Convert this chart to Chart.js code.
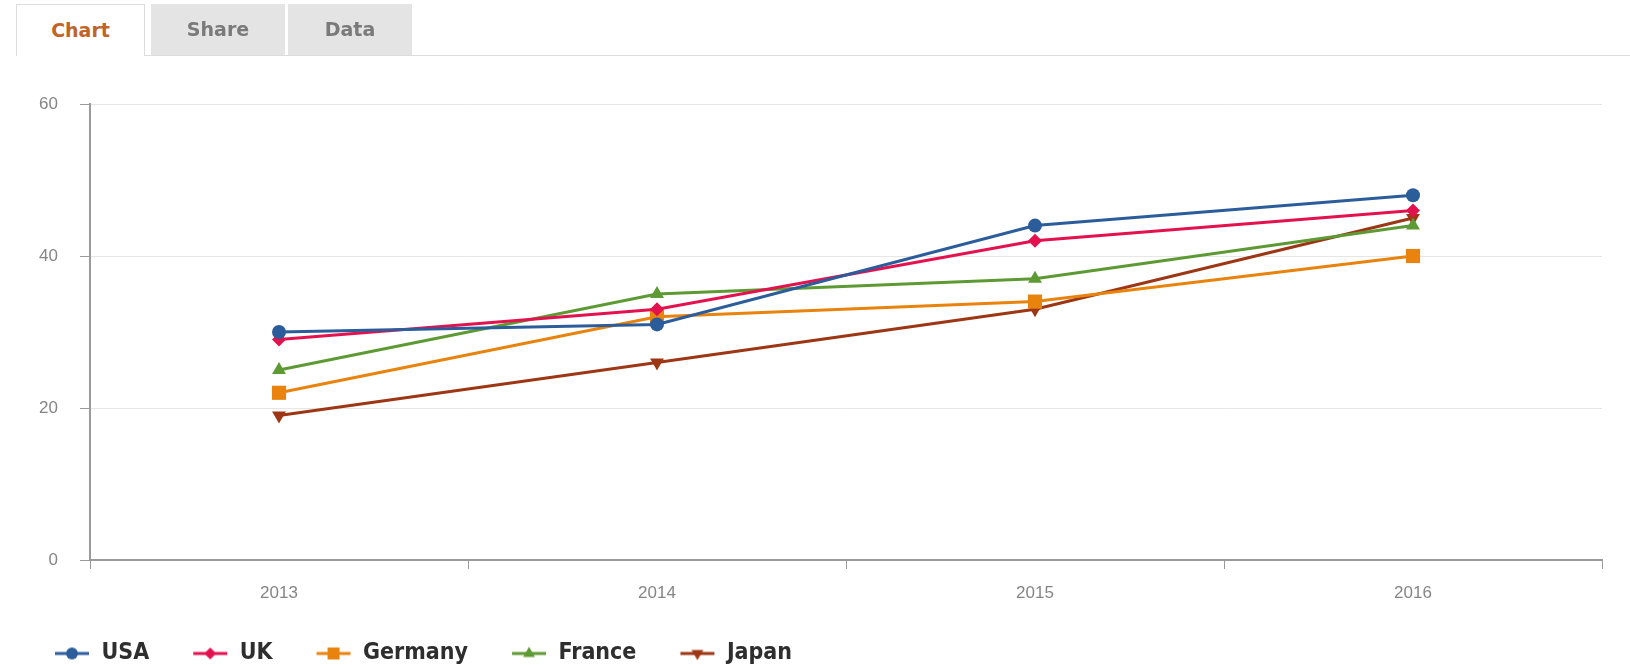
<!DOCTYPE html>
<html>
<head>
<meta charset="utf-8">
<script src="https://cdn.jsdelivr.net/npm/chart.js@4.4.1/dist/chart.umd.min.js"></script>
<style>
  html, body { margin: 0; padding: 0; background: #fff; overflow: hidden; }
  body { width: 1630px; height: 665px; position: relative; font-family: "DejaVu Sans", sans-serif; }
  .tabs-line { position: absolute; left: 145px; right: 0; top: 55px; height: 1px; background: #dcdcdc; }
  .tab { position: absolute; top: 4px; height: 51px; line-height: 50px; text-align: center;
         font-weight: bold; font-size: 19px; color: #7a7a7a; background: #e4e4e4; box-sizing: border-box; }
  .tab.active { background: #fff; color: #c0642a; border: 1px solid #dcdcdc; border-bottom: none; height: 52px; }
  #wrap { position: absolute; left: 0; top: 0; width: 1630px; height: 675px; }
</style>
</head>
<body>
<div id="wrap"><canvas id="chart"></canvas></div>
<div class="tabs-line"></div>
<div class="tab active" style="left:16px;width:129px;">Chart</div>
<div class="tab" style="left:151px;width:134px;">Share</div>
<div class="tab" style="left:288px;width:124px;">Data</div>
<script>
document.addEventListener('DOMContentLoaded', function() {
    // Dados
    const years = ['2013', '2014', '2015', '2016'];
    const usa = [30, 31, 44, 48];
    const uk = [29, 33, 42, 46];
    const germany = [22, 32, 34, 40];
    const france = [25, 35, 37, 44];
    const japan = [19, 26, 33, 45];
    const yTicks = [0, 20, 40, 60];

    const series = [
        { label: 'USA', data: usa, color: '#2c5d9b', style: 'circle', radius: 7, rotation: 0 },
        { label: 'UK', data: uk, color: '#e3124f', style: 'rectRot', radius: 7, rotation: 0 },
        { label: 'Germany', data: germany, color: '#e8830e', style: 'rect', radius: 10, rotation: 0 },
        { label: 'France', data: france, color: '#5e9a34', style: 'triangle', radius: 8, rotation: 0 },
        { label: 'Japan', data: japan, color: '#9d3614', style: 'triangle', radius: 8, rotation: 180 }
    ];

    // Ícones da legenda: linha + marcador
    function legendIcon(s) {
        const c = document.createElement('canvas');
        c.width = 36; c.height = 18;
        const g = c.getContext('2d');
        g.strokeStyle = s.color;
        g.fillStyle = s.color;
        g.lineWidth = 3;
        g.beginPath();
        g.moveTo(1, 9); g.lineTo(35, 9);
        g.stroke();
        g.lineWidth = 0;
        Chart.helpers.drawPoint(g, {
            pointStyle: s.style,
            radius: s.radius * 0.85,
            rotation: s.rotation,
            borderWidth: 0
        }, 18, 9);
        return c;
    }
    const icons = series.map(legendIcon);

    const grey = '#9a9a9a';
    const tickFont = { family: '"Liberation Sans", Arial, sans-serif', size: 17 };

    new Chart(document.getElementById('chart'), {
        type: 'line',
        data: {
            labels: years,
            datasets: series.map(s => ({
                label: s.label,
                data: s.data,
                borderColor: s.color,
                backgroundColor: s.color,
                pointBackgroundColor: s.color,
                pointBorderColor: s.color,
                pointBorderWidth: 0,
                pointStyle: s.style,
                pointRadius: s.radius,
                pointRotation: s.rotation,
                borderWidth: 3,
                tension: 0,
                fill: false
            }))
        },
        options: {
            responsive: true,
            maintainAspectRatio: false,
            animation: false,
            events: [],
            layout: { padding: { left: 11, right: 28, top: 104, bottom: 0 } },
            plugins: {
                tooltip: { enabled: false },
                legend: {
                    position: 'bottom',
                    align: 'start',
                    labels: {
                        usePointStyle: true,
                        pointStyleWidth: 36,
                        padding: 43,
                        color: '#2e2e2e',
                        font: { family: '"DejaVu Sans Condensed", "Liberation Sans Narrow", sans-serif', size: 23, weight: 'bold' },
                        generateLabels: function(chart) {
                            return series.map((s, i) => ({
                                text: s.label,
                                pointStyle: icons[i],
                                fillStyle: s.color,
                                strokeStyle: s.color,
                                lineWidth: 0,
                                hidden: false,
                                datasetIndex: i,
                                fontColor: '#2e2e2e'
                            }));
                        }
                    }
                }
            },
            scales: {
                x: {
                    type: 'category',
                    offset: true,
                    afterFit: function(scale) { scale.height = 39; },
                    border: { display: true, color: grey, width: 2 },
                    grid: {
                        offset: true,
                        drawOnChartArea: false,
                        drawTicks: true,
                        tickLength: 9,
                        tickColor: grey,
                        lineWidth: 1
                    },
                    ticks: {
                        padding: 14,
                        color: '#858585',
                        font: tickFont
                    }
                },
                y: {
                    min: 0,
                    max: 60,
                    afterFit: function(scale) { scale.width = 79; },
                    afterBuildTicks: function(scale) { scale.ticks = yTicks.map(v => ({ value: v })); },
                    border: { display: true, color: grey, width: 2 },
                    grid: {
                        color: '#e6e6e6',
                        lineWidth: 1,
                        tickLength: 10,
                        tickColor: grey
                    },
                    ticks: {
                        padding: 22,
                        color: '#858585',
                        font: tickFont
                    }
                }
            }
        }
    });
});
</script>
</body>
</html>
